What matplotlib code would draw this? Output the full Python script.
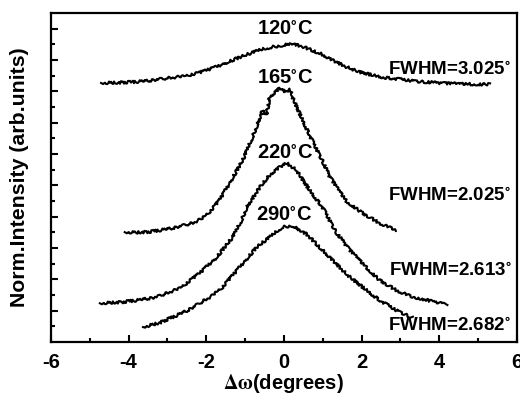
import numpy as np
import matplotlib
matplotlib.use('Agg')
import matplotlib.pyplot as plt

plt.rcParams['font.family'] = ['Liberation Sans', 'DejaVu Sans']
plt.rcParams['font.weight'] = 'bold'
plt.rcParams['mathtext.fontset'] = 'stix'
plt.rcParams['axes.unicode_minus'] = False

# rocking curves (deg, norm. intensity with offsets)
x_120 = [-4.71, -4.30, -3.89, -3.50, -3.02, -2.60, -2.17, -1.75, -1.32, -0.95, -0.63, -0.30,
         0.00, 0.19, 0.50, 0.92, 1.25, 1.61, 1.95, 2.28, 2.60, 2.97, 3.30, 3.67, 4.10, 4.50, 4.90, 5.31]
y_120 = [8.27, 8.28, 8.30, 8.34, 8.42, 8.48, 8.60, 8.78, 9.00, 9.18, 9.32, 9.42,
         9.48, 9.54, 9.42, 9.22, 9.00, 8.78, 8.62, 8.52, 8.44, 8.39, 8.34, 8.30, 8.26, 8.24, 8.23, 8.23]

x_165 = [-4.10, -3.80, -3.46, -3.15, -2.86, -2.60, -2.35, -2.10, -1.88, -1.66, -1.40, -1.06, -0.81,
         -0.55, -0.45, -0.37, -0.25, -0.11, 0.05, 0.15, 0.22, 0.40, 0.74, 0.99, 1.17, 1.35, 1.61,
         2.02, 2.46, 2.89]
y_165 = [3.51, 3.50, 3.52, 3.58, 3.64, 3.72, 3.80, 3.95, 4.20, 4.53, 5.07, 5.81, 6.54,
         7.40, 7.25, 7.82, 7.95, 8.11, 7.98, 8.08, 7.82, 7.30, 6.40, 5.80, 5.30, 4.95, 4.50,
         4.12, 3.80, 3.57]

x_220 = [-4.74, -4.15, -3.70, -3.28, -2.68, -2.17, -1.73, -1.32, -1.09, -0.96, -0.55, -0.35,
         -0.11, 0.07, 0.32, 0.66, 0.99, 1.35, 1.69, 2.12, 2.46, 2.89, 3.31, 3.92, 4.21]
y_220 = [1.24, 1.28, 1.35, 1.44, 1.72, 2.20, 2.71, 3.35, 3.89, 4.31, 5.07, 5.35,
         5.59, 5.71, 5.49, 4.85, 4.31, 3.50, 2.94, 2.39, 1.98, 1.66, 1.44, 1.28, 1.18]

x_290 = [-3.63, -3.20, -2.86, -2.50, -2.17, -1.85, -1.58, -1.14, -0.70, -0.37, -0.04, 0.22,
         0.58, 0.92, 1.25, 1.61, 2.02, 2.46, 2.89, 3.31]
y_290 = [0.48, 0.62, 0.80, 1.00, 1.24, 1.48, 1.76, 2.39, 3.03, 3.35, 3.67, 3.72,
         3.45, 3.03, 2.62, 2.17, 1.76, 1.34, 1.02, 0.78]

temps = ['120', '165', '220', '290']
temp_pos = [(0.04, 10.02), (0.04, 8.46), (0.04, 6.06), (0.0, 4.08)]
fwhm = ['3.025', '2.025', '2.613', '2.682']
fwhm_pos = [(2.69, 8.71), (2.69, 4.69), (2.71, 2.30), (2.69, 0.54)]

fig = plt.figure(figsize=(5.2, 3.96), dpi=100)
ax = fig.add_axes([0.098, 0.136, 0.896, 0.831])

for xs, ys in [(x_120, y_120), (x_165, y_165), (x_220, y_220), (x_290, y_290)]:
    ln, = ax.plot(xs, ys, color='black', lw=1.5)
    ln.set_sketch_params(scale=1.3, length=2.5, randomness=6)

for t, (tx, ty) in zip(temps, temp_pos):
    ax.text(tx, ty, t + r'$^{\circ}$C', ha='center', va='center', fontsize=14.5, fontweight='bold')
for f, (fx, fy) in zip(fwhm, fwhm_pos):
    ax.text(fx, fy, 'FWHM=' + f + r'$^{\circ}$', ha='left', va='center', fontsize=13.5)

ax.set_xlim(-6, 6)
ax.set_ylim(0, 10.5)
ax.set_xticks([-6, -4, -2, 0, 2, 4, 6])
ax.set_xticks(np.arange(-6, 7, 1), minor=True)
ax.set_yticks(np.arange(1, 11, 1))
ax.set_yticks(np.arange(0.5, 10.5, 1), minor=True)
ax.set_yticklabels([])
ax.tick_params(which='both', direction='in', width=1.5, top=False, right=False)
ax.tick_params(which='major', length=5)
ax.tick_params(which='minor', length=3)
ax.tick_params(axis='x', labelsize=14.5, pad=8)
for lbl in ax.get_xticklabels():
    lbl.set_fontweight('bold')
for s in ax.spines.values():
    s.set_linewidth(1.6)

ax.set_xlabel(r'$\mathrm{\Delta\omega}$(degrees)', fontsize=14.5, fontweight='bold', labelpad=0)
ax.set_ylabel('Norm.Intensity (arb.units)', fontsize=15.3, fontweight='bold')
ax.yaxis.set_label_coords(-0.047, 0.5)

fig.savefig('out.png', dpi=100)
